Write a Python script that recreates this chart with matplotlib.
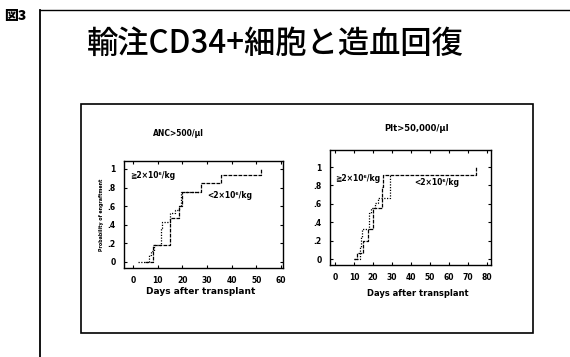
import matplotlib
matplotlib.use("Agg")
import matplotlib.pyplot as plt
from matplotlib.lines import Line2D
from matplotlib.patches import Rectangle

plt.rcParams['font.family'] = ['DejaVu Sans', 'Noto Sans CJK JP']

W, H = 570, 357

# ---- data -------------------------------------------------------------
title_text = "輸注CD34+細胞と造血回復"
fig_label = "図3"

anc_title = "ANC>500/μl"
plt_title = "Plt>50,000/μl"
x_label = "Days after transplant"
y_label = "Probability of engraftment"
hi_label = "≧2×10⁶/kg"
lo_label = "<2×10⁶/kg"

y_ticks = [0, 0.2, 0.4, 0.6, 0.8, 1.0]
y_tick_labels = ["0", ".2", ".4", ".6", ".8", "1"]
anc_x_ticks = [0, 10, 20, 30, 40, 50, 60]
plt_x_ticks = [0, 10, 20, 30, 40, 50, 60, 70, 80]

# ANC recovery, CD34+ >= 2x10^6/kg
anc_hi_days = [2, 6.5, 7.5, 8.5, 11.4, 11.8, 15, 17, 18.5, 19.5, 27]
anc_hi_prob = [0, 0.07, 0.12, 0.18, 0.37, 0.43, 0.53, 0.56, 0.60, 0.75, 0.75]
# ANC recovery, CD34+ < 2x10^6/kg
anc_lo_days = [5, 8, 14.9, 18.5, 20, 27.5, 35.7, 52, 52]
anc_lo_prob = [0, 0.18, 0.47, 0.60, 0.75, 0.85, 0.935, 1.0, 1.0]

# Platelet recovery, CD34+ >= 2x10^6/kg
plt_hi_days = [10, 13, 13.7, 14, 18, 19, 21, 22.6, 29, 29.5]
plt_hi_prob = [0, 0.13, 0.24, 0.33, 0.50, 0.55, 0.61, 0.66, 0.90, 0.90]
# Platelet recovery, CD34+ < 2x10^6/kg
plt_lo_days = [10, 11.4, 14.5, 17.5, 20, 24.7, 25.5, 74, 74]
plt_lo_prob = [0, 0.07, 0.20, 0.33, 0.55, 0.78, 0.91, 1.0, 1.0]

# ---- figure -----------------------------------------------------------
fig = plt.figure(figsize=(W / 100, H / 100), dpi=100)
fig.patch.set_facecolor("white")


def fx(px):
    return px / W


def fy(py):
    return 1 - py / H


# slide frame: left and top rules
fig.add_artist(Line2D([fx(40), fx(40)], [fy(10), fy(357)], color="black", lw=1.3))
fig.add_artist(Line2D([fx(40), fx(570)], [fy(10), fy(10)], color="black", lw=1.0))

fig.text(fx(4), fy(16), fig_label, fontsize=10, fontweight="heavy",
         family=['Noto Sans CJK JP', 'DejaVu Sans'], ha="left", va="center")
fig.text(fx(275), fy(44), title_text, fontsize=22.5, fontweight="medium",
         family=['Noto Sans CJK JP', 'DejaVu Sans'], ha="center", va="center")

# inner panel frame
fig.add_artist(Rectangle((fx(81), fy(333)), fx(533) - fx(81), fy(104) - fy(333),
                         transform=fig.transFigure, fill=False,
                         edgecolor="black", lw=1.2))

hi_style = dict(color="black", lw=0.9, linestyle=(0, (1, 1.2)))
lo_style = dict(color="black", lw=0.9, linestyle=(0, (3, 1)))


def style_axes(ax, xticks, xlim, ylim):
    ax.set_xlim(*xlim)
    ax.set_ylim(*ylim)
    ax.set_xticks(xticks)
    ax.set_yticks(y_ticks)
    ax.set_yticklabels(y_tick_labels)
    ax.tick_params(direction="in", length=2.5, width=0.8, labelsize=5.5,
                   top=True, right=True, pad=6)
    for lab in ax.get_xticklabels() + ax.get_yticklabels():
        lab.set_fontweight("bold")
    for s in ax.spines.values():
        s.set_linewidth(1.0)


# ANC panel
ax1 = fig.add_axes([fx(124), fy(268), fx(283) - fx(124), fy(161) - fy(268)])
ax1.step(anc_hi_days, anc_hi_prob, where="post", **hi_style)
ax1.step(anc_lo_days, anc_lo_prob, where="post", **lo_style)
style_axes(ax1, anc_x_ticks, (-3.6, 60.8), (-0.065, 1.086))
ax1.text(8.1, 0.925, hi_label, fontsize=5.5, fontweight="bold", ha="center", va="center")
ax1.text(39.3, 0.71, lo_label, fontsize=5.5, fontweight="bold", ha="center", va="center")
fig.text(fx(178), fy(133), anc_title, fontsize=5.5, fontweight="bold",
         ha="center", va="center")
fig.text(fx(201), fy(292), x_label, fontsize=6.5, fontweight="bold",
         ha="center", va="center")
fig.text(fx(102), fy(215), y_label, fontsize=3.4, fontweight="bold",
         ha="center", va="center", rotation=90)

# Platelet panel
ax2 = fig.add_axes([fx(330), fy(265), fx(491) - fx(330), fy(150) - fy(265)])
ax2.step(plt_hi_days, plt_hi_prob, where="post", **hi_style)
ax2.step(plt_lo_days, plt_lo_prob, where="post", **lo_style)
style_axes(ax2, plt_x_ticks, (-2.6, 82.1), (-0.065, 1.185))
ax2.text(12.1, 0.88, hi_label, fontsize=5.5, fontweight="bold", ha="center", va="center")
ax2.text(53.7, 0.83, lo_label, fontsize=5.5, fontweight="bold", ha="center", va="center")
fig.text(fx(417), fy(128), plt_title, fontsize=6, fontweight="bold",
         ha="center", va="center")
fig.text(fx(418), fy(293), x_label, fontsize=6, fontweight="bold",
         ha="center", va="center")

fig.savefig("out.png", dpi=100, facecolor="white")
